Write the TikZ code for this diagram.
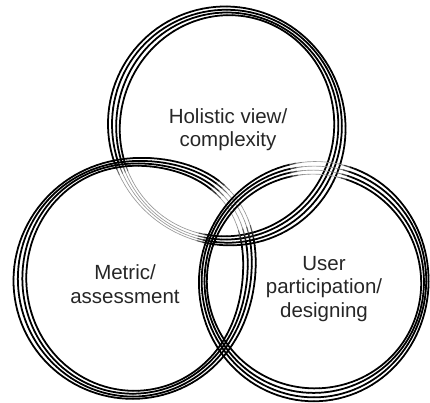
\documentclass[tikz,border=0pt]{standalone}
\usepackage{fontspec}
\setmainfont{Liberation Sans}
\tikzset{
  lbl/.style={align=center, font=\fontsize{20.5}{23.5}\selectfont, text=black!85, inner sep=0pt, anchor=base},
}
% #1 cx, #2 cy, #3 rx, #4 ry, #5 phase, #6 fade start, #7 fade end, #8 bump amp, #9 bump angle
\newcommand\myring[9]{%
  \foreach \k in {0,1,2,3}{%
    \foreach \t in {0,3,...,357}{%
      \pgfmathsetmacro\ta{\t}%
      \pgfmathsetmacro\tb{\t+3}%
      \pgfmathsetmacro\tm{\t+1.5}%
      \pgfmathsetmacro\f{max(0,min(1,min((\tm-#6+8)/8,(#7+8-\tm)/8)))}%
      \pgfmathsetmacro\oa{(\k-1.5)*(3.4+0.9*sin(2*\ta+#5))+0.25*sin(3*\ta+97*\k)+#8*((1+cos(\ta-#9))/2)^12}%
      \pgfmathsetmacro\ob{(\k-1.5)*(3.4+0.9*sin(2*\tb+#5))+0.25*sin(3*\tb+97*\k)+#8*((1+cos(\tb-#9))/2)^12}%
      \pgfmathsetmacro\xa{#1+(#3+\oa)*cos(\ta)}%
      \pgfmathsetmacro\ya{#2+(#4+\oa)*sin(\ta)}%
      \pgfmathsetmacro\xb{#1+(#3+\ob)*cos(\tb)}%
      \pgfmathsetmacro\yb{#2+(#4+\ob)*sin(\tb)}%
      \pgfmathsetmacro\pc{100-60*\f}%
      \pgfmathsetmacro\lw{1.75-1.1*\f}%
      \draw[line width=\lw pt, color=black!\pc, line cap=round] (\xa,\ya) -- (\xb,\yb);
    }%
  }%
}
\begin{document}
\begin{tikzpicture}[x=1pt,y=-1pt]
  \useasboundingbox (0,0) rectangle (430,403);
  \myring{227}{126}{113}{115}{30}{107}{155}{0}{0}
  \myring{133}{279}{113}{116}{120}{319}{334}{11}{322}
  \myring{314}{281.5}{111}{113.5}{250}{264}{282}{0}{0}
  \node[lbl] (top) at (228,147) {Holistic view/\\complexity};
  \node[lbl] (left) at (125,303) {Metric/\\assessment};
  \node[lbl] (right) at (324,317) {User\\participation/\\designing};
\end{tikzpicture}
\end{document}
